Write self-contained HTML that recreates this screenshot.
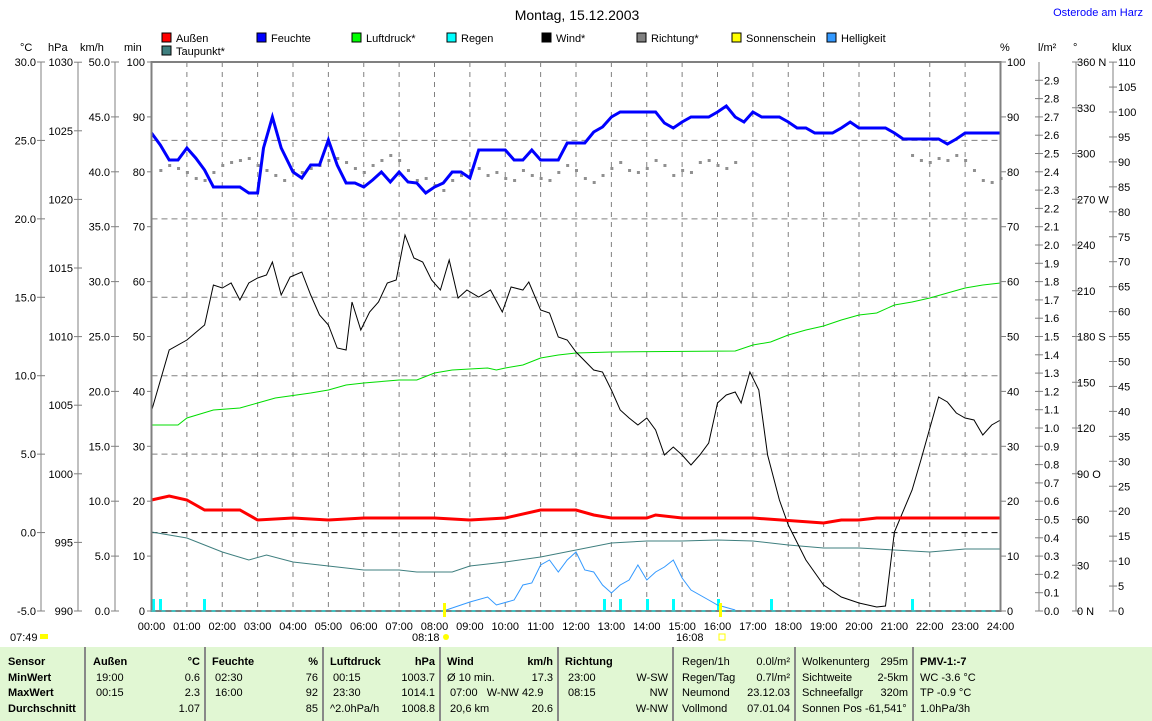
<!DOCTYPE html>
<html><head><meta charset="utf-8"><style>
body{margin:0;width:1152px;height:721px;background:#fff;overflow:hidden;font-family:"Liberation Sans",sans-serif;}
svg{position:absolute;left:0;top:0}
svg text{font-family:"Liberation Sans",sans-serif;font-size:11px;fill:#000}
.tb{position:absolute;left:0;top:647px;width:1152px;height:74px;background:#e1f7d3;}
.c{position:absolute;top:0;height:74px;border-right:2px solid #888;font-size:11px;line-height:15.5px;padding-top:8px;box-sizing:border-box}
.c div{position:relative;height:15.5px;white-space:nowrap}
.r{position:absolute;right:4px;top:0}
.b{font-weight:bold}
</style></head><body>
<div class="tb">
<div class="c" style="left:0;width:86px;padding-left:8px"><div class="b">Sensor</div><div class="b">MinWert</div><div class="b">MaxWert</div><div class="b">Durchschnitt</div></div>
<div class="c" style="left:86px;width:120px;padding-left:7px"><div class="b">Außen<span class="r">°C</span></div><div>&nbsp;19:00<span class="r">0.6</span></div><div>&nbsp;00:15<span class="r">2.3</span></div><div><span class="r">1.07</span></div></div>
<div class="c" style="left:206px;width:118px;padding-left:6px"><div class="b">Feuchte<span class="r">%</span></div><div>&nbsp;02:30<span class="r">76</span></div><div>&nbsp;16:00<span class="r">92</span></div><div><span class="r">85</span></div></div>
<div class="c" style="left:324px;width:117px;padding-left:6px"><div class="b">Luftdruck<span class="r">hPa</span></div><div>&nbsp;00:15<span class="r">1003.7</span></div><div>&nbsp;23:30<span class="r">1014.1</span></div><div>^2.0hPa/h<span class="r">1008.8</span></div></div>
<div class="c" style="left:441px;width:118px;padding-left:6px"><div class="b">Wind<span class="r">km/h</span></div><div>Ø 10 min.<span class="r">17.3</span></div><div>&nbsp;07:00&nbsp;&nbsp; W-NW 42.9<span class="r"></span></div><div>&nbsp;20,6 km<span class="r">20.6</span></div></div>
<div class="c" style="left:559px;width:115px;padding-left:6px"><div class="b">Richtung</div><div>&nbsp;23:00<span class="r">W-SW</span></div><div>&nbsp;08:15<span class="r">NW</span></div><div><span class="r">W-NW</span></div></div>
<div class="c" style="left:674px;width:122px;padding-left:8px"><div>Regen/1h<span class="r">0.0l/m²</span></div><div>Regen/Tag<span class="r">0.7l/m²</span></div><div>Neumond<span class="r">23.12.03</span></div><div>Vollmond<span class="r">07.01.04</span></div></div>
<div class="c" style="left:796px;width:118px;padding-left:6px"><div>Wolkenunterg<span class="r">295m</span></div><div>Sichtweite<span class="r">2-5km</span></div><div>Schneefallgr<span class="r">320m</span></div><div>Sonnen Pos -61,541°</div></div>
<div class="c" style="left:914px;width:238px;padding-left:6px;border:none"><div class="b">PMV-1:-7</div><div>WC -3.6 °C</div><div>TP -0.9 °C</div><div>1.0hPa/3h</div></div>
</div>
<svg id="s" width="1152" height="647" xmlns="http://www.w3.org/2000/svg">
<text x="577" y="20" text-anchor="middle" style="font-size:14px">Montag, 15.12.2003</text>
<text x="1143" y="16" text-anchor="end" style="fill:#00f">Osterode am Harz</text>
</svg>
<script>
var s=document.getElementById('s'),h='';
var X0=151.5,W=849,Y0=62,Y1=611;
function x(t){var p=t.split(':');return X0+(+p[0]+p[1]/60)*W/24;}
function L(a,b,c,d,st){h+='<line x1="'+a+'" y1="'+b+'" x2="'+c+'" y2="'+d+'" style="'+st+'"/>';}
function T(x,y,t,a,st){h+='<text x="'+x+'" y="'+y+'" text-anchor="'+(a||'start')+'" style="'+(st||'')+'">'+t+'</text>';}
for(var i=1;i<24;i++){var xx=X0+i*W/24;L(xx,Y0,xx,Y1,'stroke:#808080;stroke-dasharray:5,5');}
for(var i=1;i<7;i++){var yy=Y1-i*78.43;L(X0,yy,X0+W,yy,'stroke:'+(i==1?'#000':'#808080')+';stroke-dasharray:6,4');}
T(20,51,'°C','start');T(48,51,'hPa');T(80,51,'km/h');T(124,51,'min');
L(41,Y0,41,Y1,'stroke:#808080');L(78,Y0,78,Y1,'stroke:#808080');L(115,Y0,115,Y1,'stroke:#808080');
for(var i=0;i<=7;i++){var yy=Y1-i*78.43;L(37,yy,45,yy,'stroke:#808080');T(36,yy+4,(-5+5*i).toFixed(1),'end');}
for(var i=0;i<=8;i++){var yy=Y1-i*68.6;L(74,yy,82,yy,'stroke:#808080');T(73,yy+4,990+5*i,'end');}
for(var i=0;i<=10;i++){var yy=Y1-i*54.9;L(111,yy,119,yy,'stroke:#808080');T(110,yy+4,(5*i).toFixed(1),'end');T(145,yy+4,10*i,'end');L(147,yy,151,yy,'stroke:#808080');}
T(1000,51,'%');T(1038,51,'l/m²');T(1073,51,'°');T(1112,51,'klux');
L(1001,Y0,1001,Y1,'stroke:#808080');L(1039,Y0,1039,Y1,'stroke:#808080');L(1076,Y0,1076,Y1,'stroke:#808080');L(1113,Y0,1113,Y1,'stroke:#808080');
for(var i=0;i<=10;i++){var yy=Y1-i*54.9;L(1001,yy,1006,yy,'stroke:#808080');T(1007,yy+4,10*i);}
for(var i=0;i<30;i++){var yy=Y1-i*18.3;L(1035,yy,1043,yy,'stroke:#808080');T(1044,yy+4,(i/10).toFixed(1));}
var dl=['0 N','30','60','90 O','120','150','180 S','210','240','270 W','300','330','360 N'];
for(var i=0;i<=12;i++){var yy=Y1-i*45.75;L(1072,yy,1080,yy,'stroke:#808080');T(1077,yy+4,dl[i]);}
for(var i=0;i<=22;i++){var yy=Y1-i*24.95;L(1109,yy,1117,yy,'stroke:#808080');T(1118,yy+4,5*i);}
for(var i=0;i<=24;i++){T(X0+i*W/24,630,(i<10?'0':'')+i+':00','middle');}
T(10,641,'07:49');T(412,641,'08:18');T(676,641,'16:08');
var lg=[['Außen','#f00',160,42],['Feuchte','#00f',255,42],['Luftdruck*','#0f0',350,42],['Regen','#0ff',445,42],['Wind*','#000',540,42],['Richtung*','#808080',635,42],['Sonnenschein','#ff0',730,42],['Helligkeit','#39f',825,42],['Taupunkt*','#3f7f7f',160,55]];
lg.forEach(function(a){h+='<rect x="'+(a[2]+2)+'" y="'+(a[3]-9)+'" width="9" height="9" fill="'+a[1]+'" stroke="#000"/>';T(a[2]+16,a[3],a[0]);});
function P(d,st){var pts=[];for(var i=0;i<d.length;i+=2)pts.push(x(d[i]).toFixed(1)+','+d[i+1]);h+='<polyline fill="none" points="'+pts.join(' ')+'" style="'+st+'"/>';}
var r=[170,165,168,172,178,180,172,165,162,160,158,165,170,175,180,170,172,168,165,160,158,162,168,172,165,160,155,160,170,180,178,185,190,180,175,170,168,175,172,178,180,170,175,178,180,172,165,170,178,182,175,168,162,170,172,168,160,165,175,170,172,162,160,165,168,162];
for(var i=0;i<r.length&&i<71;i++){var xx=X0+(i+1)*W/96;h+='<rect x="'+(xx-1)+'" y="'+(r[i]-1)+'" width="3" height="3" fill="#909090"/>';}
var r2=[155,160,162,158,160,155,160,170,180,182,178];
for(var i=0;i<r2.length;i++){var xx=X0+(86+i)*W/96;h+='<rect x="'+(xx-1)+'" y="'+(r2[i]-1)+'" width="3" height="3" fill="#909090"/>';}
[153,160,204,604,620,647,673,718,771,912].forEach(function(v){h+='<rect x="'+(v-1)+'" y="599" width="3" height="12" fill="#0ff"/>';});
P(['8:15',611,'9:00',602,'9:30',597,'9:45',605,'10:15',600,'10:30',585,'10:45',583,'11:00',565,'11:15',560,'11:30',572,'11:45',560,'12:00',552,'12:15',570,'12:30',572,'12:45',585,'13:00',593,'13:15',585,'13:30',580,'13:45',565,'14:00',580,'14:15',572,'14:30',567,'14:45',560,'15:00',578,'15:15',590,'15:45',600,'16:00',605,'16:30',610],'stroke:#3399ff;stroke-width:1');
P(['0:00',532,'1:00',538,'2:00',552,'2:45',560,'3:15',555,'4:00',562,'5:00',566,'6:00',570,'7:00',570,'7:30',572,'8:30',572,'9:00',566,'10:00',562,'11:00',557,'12:00',550,'13:00',543,'14:00',541,'15:00',541,'16:00',540,'17:00',541,'18:00',545,'19:00',548,'20:00',548,'21:00',550,'22:00',552,'23:00',549,'24:00',549],'stroke:#3f7f7f;stroke-width:1');
P(['0:00',425,'0:45',425,'1:00',418,'1:45',410,'2:30',408,'3:00',403,'3:30',398,'4:30',393,'5:00',390,'5:30',385,'6:00',383,'7:00',380,'7:30',380,'8:00',373,'8:30',370,'9:30',368,'9:45',370,'10:00',368,'10:30',365,'11:00',358,'11:30',355,'12:00',353,'13:00',352,'16:30',351,'17:00',345,'17:30',342,'18:00',335,'18:30',330,'19:00',326,'19:30',320,'20:00',315,'20:30',313,'21:00',305,'21:30',302,'22:00',298,'22:30',293,'23:00',288,'23:30',285,'24:00',283],'stroke:#0d0;stroke-width:1');
P(['0:00',411,'0:30',350,'1:00',340,'1:30',325,'1:45',285,'2:00',288,'2:15',283,'2:30',300,'2:45',283,'3:00',278,'3:15',275,'3:25',262,'3:40',295,'3:55',277,'4:15',272,'4:30',295,'4:45',315,'5:00',325,'5:15',348,'5:30',350,'5:40',302,'5:55',330,'6:10',312,'6:25',302,'6:40',283,'6:55',280,'7:10',235,'7:25',258,'7:40',262,'7:55',280,'8:10',290,'8:25',260,'8:40',298,'8:55',290,'9:15',297,'9:35',290,'9:55',312,'10:10',287,'10:30',290,'10:40',282,'11:00',310,'11:15',313,'11:30',337,'11:45',340,'12:00',352,'12:30',370,'12:45',372,'13:00',390,'13:15',410,'13:30',418,'13:45',425,'14:00',418,'14:15',430,'14:30',455,'14:45',447,'15:00',455,'15:15',465,'15:30',455,'15:45',443,'16:00',403,'16:15',395,'16:30',392,'16:40',403,'16:55',372,'17:10',390,'17:25',455,'17:45',500,'18:00',525,'18:30',560,'19:00',585,'19:30',597,'20:00',603,'20:30',607,'20:45',606,'21:00',532,'21:30',490,'21:45',460,'22:15',397,'22:30',402,'22:45',413,'23:00',418,'23:15',420,'23:30',435,'23:45',425,'24:00',420],'stroke:#000;stroke-width:1');
P(['0:00',500,'0:30',496,'1:00',500,'1:30',510,'2:30',510,'3:00',520,'4:00',518,'5:00',520,'6:00',518,'8:00',518,'9:00',520,'10:00',518,'11:00',510,'12:00',510,'12:30',515,'13:00',518,'14:00',518,'14:15',515,'15:00',518,'16:00',518,'17:00',518,'19:00',523,'19:30',520,'20:00',520,'20:30',518,'24:00',518],'stroke:#f00;stroke-width:3');
P(['0:00',133,'0:15',145,'0:30',160,'0:45',160,'1:00',148,'1:15',158,'1:30',170,'1:45',187,'2:30',187,'2:45',193,'3:00',193,'3:10',148,'3:25',117,'3:40',148,'4:00',172,'4:15',178,'4:30',165,'4:45',165,'5:00',140,'5:15',165,'5:30',183,'5:45',183,'6:00',187,'6:15',180,'6:30',172,'6:45',182,'7:00',172,'7:15',182,'7:30',183,'7:45',193,'8:00',187,'8:15',183,'8:30',172,'8:45',172,'9:00',178,'9:15',150,'10:00',150,'10:15',160,'10:30',160,'10:45',150,'11:00',160,'11:30',160,'11:45',143,'12:15',143,'12:30',132,'12:45',127,'13:00',117,'13:15',112,'14:15',112,'14:30',123,'14:45',128,'15:00',122,'15:15',117,'15:45',117,'16:00',112,'16:15',106,'16:30',117,'16:45',122,'17:00',112,'17:15',117,'17:45',117,'18:00',122,'18:15',128,'18:30',128,'18:45',133,'19:15',133,'19:30',128,'19:45',122,'20:00',128,'20:45',128,'21:00',133,'21:15',139,'22:15',139,'22:30',144,'22:45',139,'23:00',133,'24:00',133],'stroke:#00f;stroke-width:3');
h+='<rect x="'+X0+'" y="'+Y0+'" width="'+W+'" height="'+(Y1-Y0)+'" fill="none" stroke="#808080" stroke-width="2"/>';
L(X0,Y1,X0+W,Y1,'stroke:#0ff;stroke-dasharray:4,6');
h+='<rect x="443" y="603" width="3" height="14" fill="#ff0"/><rect x="719" y="603" width="3" height="14" fill="#ff0"/>';
h+='<circle cx="446" cy="637" r="3" fill="#ff0"/><rect x="719" y="634" width="6" height="6" fill="none" stroke="#ff0"/><rect x="40" y="634" width="8" height="5" fill="#ff0"/>';
s.innerHTML+=h;
</script>
</body></html>
